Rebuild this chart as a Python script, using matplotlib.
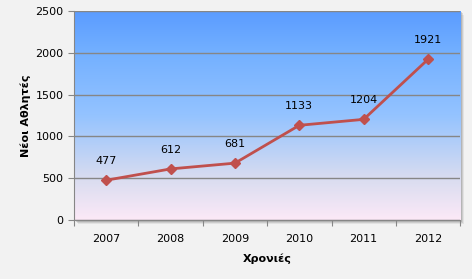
import numpy as np
import matplotlib
matplotlib.use("Agg")
import matplotlib.pyplot as plt
from matplotlib.colors import LinearSegmentedColormap
from matplotlib.patches import Rectangle

years = ["2007", "2008", "2009", "2010", "2011", "2012"]
values = [477, 612, 681, 1133, 1204, 1921]
yticks = [0, 500, 1000, 1500, 2000, 2500]
xlabel = "Χρονιές"
ylabel = "Νέοι Αθλητές"

plt.rcParams['font.family'] = ['DejaVu Sans']
fig = plt.figure(figsize=(4.72, 2.79), dpi=100, facecolor="#F2F2F2")
ax = fig.add_axes([0.157, 0.211, 0.818, 0.75])
ax.set_facecolor("none")

# soft shadow
for dx, a in [(0.018, 0.15), (0.012, 0.25), (0.007, 0.35)]:
    ax.add_patch(Rectangle((dx * 0.6, -dx), 1.0, 1.0, transform=ax.transAxes,
                           facecolor="#8C8C8C", edgecolor="none", alpha=a,
                           clip_on=False, zorder=-2))

cmap = LinearSegmentedColormap.from_list("bg", [
    (0.0, "#FCE9F7"), (0.2, "#D8DCF0"), (0.5, "#94C3FF"),
    (0.8, "#73B0FF"), (1.0, "#5A9BFF")])
grad = np.linspace(0, 1, 256).reshape(-1, 1)
x = np.arange(len(years))
ax.imshow(grad, cmap=cmap, aspect="auto", origin="lower",
          extent=[-0.5, len(years) - 0.5, 0, 2500], zorder=-1)

ax.set_xlim(-0.5, len(years) - 0.5)
ax.set_ylim(0, 2500)
ax.set_yticks(yticks)
ax.yaxis.grid(True, color="#868686", linewidth=1, zorder=1)
ax.set_xticks(np.arange(len(years) + 1) - 0.5, minor=False)
ax.set_xticklabels([])
ax.set_xticks(x, minor=True)
ax.set_xticklabels(years, minor=True, fontsize=8)
ax.tick_params(axis="x", which="minor", length=0, pad=10)
ax.tick_params(axis="x", which="major", length=4, color="#868686")
ax.tick_params(axis="y", length=4, color="#868686", labelsize=8)

for s in ["top", "right"]:
    ax.spines[s].set_visible(False)
for s in ["left", "bottom"]:
    ax.spines[s].set_color("#868686")

ax.plot(x, values, color="#C0504D", linewidth=2, marker="D", markersize=5, zorder=3)
for xi, v in zip(x, values):
    ax.annotate(str(v), (xi, v), textcoords="offset points", xytext=(0, 10),
                ha="center", va="bottom", fontsize=8)

ax.set_xlabel(xlabel, fontsize=8, fontweight="bold", labelpad=7)
ax.set_ylabel(ylabel, fontsize=8, fontweight="bold", labelpad=3)

fig.savefig("out.png", dpi=100, facecolor=fig.get_facecolor())
